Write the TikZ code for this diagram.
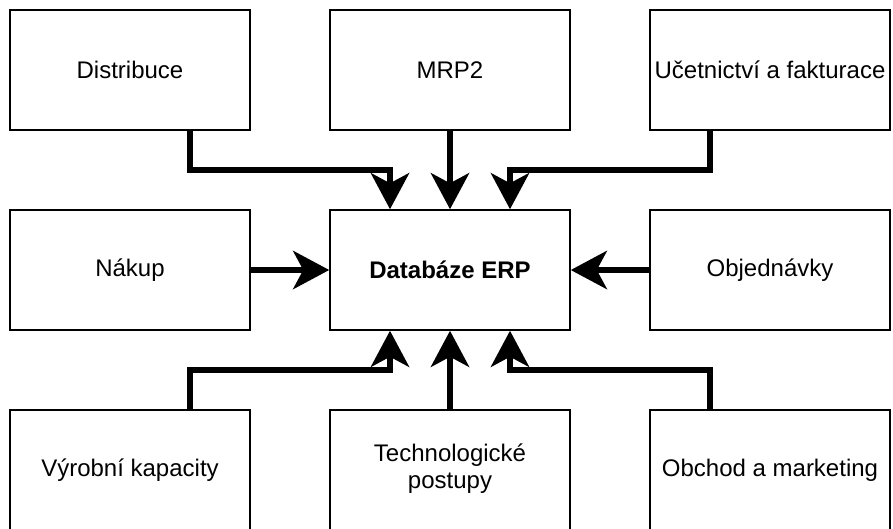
\documentclass[tikz,border=0pt]{standalone}
\usepackage{fontspec}
\setmainfont{Liberation Sans}
\usetikzlibrary{arrows.meta}
\begin{document}
\begin{tikzpicture}[x=1pt,y=-1pt,
  module/.style={draw=black, line width=1.5pt, fill=white, minimum width=240pt,
    minimum height=120pt, inner sep=0pt, align=center,
    font=\fontsize{24}{27}\selectfont},
  flow/.style={line width=6.5pt, line join=miter,
    -{Stealth[length=36pt, width=38pt, inset=10pt]}}]
\useasboundingbox (0,0) rectangle (893,528);

% top row
\node[module] (dist) at (130,70) {Distribuce};
\node[module] (mrp)  at (450,70) {MRP2};
\node[module] (ucet) at (770,70) {Učetnictví a fakturace};
% middle row
\node[module] (nakup) at (130,270) {Nákup};
\node[module] (db)    at (450,270) {\bfseries Databáze ERP};
\node[module] (obj)   at (770,270) {Objednávky};
% bottom row
\node[module] (vyr)   at (130,470) {Výrobní kapacity};
\node[module] (tech)  at (450,470)
  {\raisebox{-4pt}{\begin{tabular}{@{}c@{}}Technologické\\postupy\end{tabular}}};
\node[module] (obch)  at (770,470) {Obchod a marketing};

% connectors into the database
\draw[flow] ([xshift=60pt]dist.south) |- (390,170) -- ([xshift=-60pt]db.north);
\draw[flow] (mrp.south) -- (db.north);
\draw[flow] ([xshift=-60pt]ucet.south) |- (510,170) -- ([xshift=60pt]db.north);
\draw[flow] (nakup.east) -- (db.west);
\draw[flow] (obj.west) -- (db.east);
\draw[flow] ([xshift=60pt]vyr.north) |- (390,370) -- ([xshift=-60pt]db.south);
\draw[flow] (tech.north) -- (db.south);
\draw[flow] ([xshift=-60pt]obch.north) |- (510,370) -- ([xshift=60pt]db.south);
\end{tikzpicture}
\end{document}
